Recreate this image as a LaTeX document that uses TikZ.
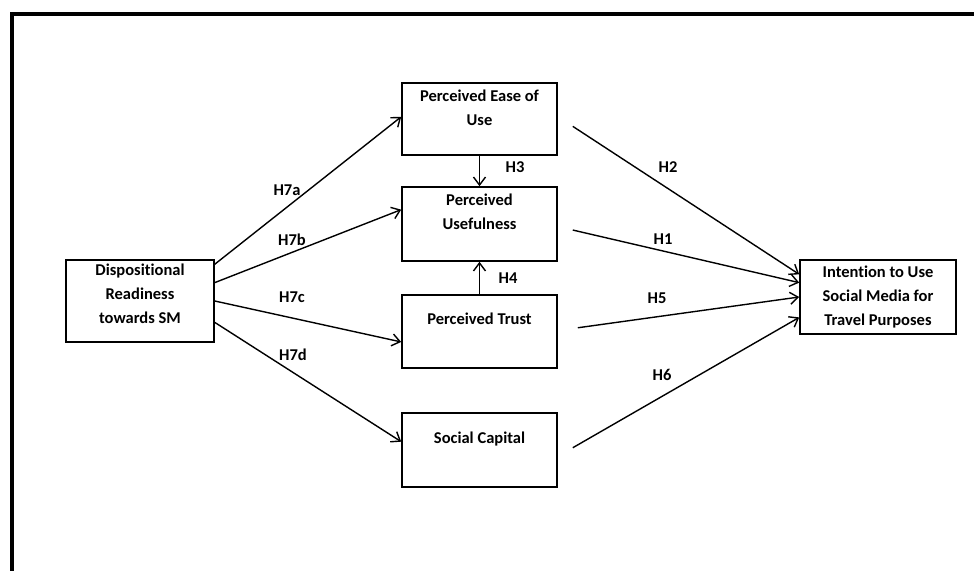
\documentclass[tikz,border=0pt]{standalone}
\usepackage{fontspec}
\setmainfont[Ligatures=NoCommon]{Carlito}
\usetikzlibrary{arrows.meta,calc}
\begin{document}
\begin{tikzpicture}[x=1pt,y=-1pt,
  box/.style={draw,line width=1.6pt,inner sep=0pt,minimum width=155pt},
  txt/.style={inner sep=0pt,align=center,anchor=north,font=\fontsize{16.5}{24}\selectfont\bfseries},
  lbl/.style={inner sep=0pt,font=\fontsize{16.5}{24}\selectfont\bfseries},
  arr/.style={line width=1.4pt,-{Straight Barb[length=8pt,width=12pt,line width=1.4pt]}}]
\useasboundingbox (0,0) rectangle (974,570);
\draw[line width=4pt,line cap=rect] (11.5,572) -- (11.5,13.5) -- (976,13.5);

% boxes
\node[box,minimum height=72pt] (peou) at (479.5,119) {};
\node[box,minimum height=74pt] (pu) at (479.5,224) {};
\node[box,minimum height=73pt] (pt) at (479.5,331.5) {};
\node[box,minimum height=74pt] (sc) at (479.5,450) {};
\node[box,minimum width=148pt,minimum height=82pt] (disp) at (140,301) {};
\node[box,minimum width=156pt,minimum height=74pt] (int) at (878,297) {};

% texts
\node[txt] (tpeou) at ($(peou.north)+(0,8)$) {Perceived Ease of\\Use};
\node[txt] (tpu) at ($(pu.north)+(0,8)$) {Perceived\\Usefulness};
\node[txt] (tpt) at ($(pt.north)+(0,19)$) {Perceived Trust};
\node[txt] (tsc) at ($(sc.north)+(0,20)$) {Social Capital};
\node[txt] (tdisp) at ($(disp.north)+(0,5)$) {Dispositional\\Readiness\\towards SM};
\node[txt] (tint) at ($(int.north)+(0,7)$) {Intention to Use\\Social Media for\\Travel Purposes};

% connectors from Disp
\draw[arr] ($(disp.north east)!0.06!(disp.south east)$) -- ($(peou.north west)!0.47!(peou.south west)$);
\draw[arr] ($(disp.north east)!0.28!(disp.south east)$) -- ($(pu.north west)!0.31!(pu.south west)$);
\draw[arr] ($(disp.north east)!0.50!(disp.south east)$) -- ($(pt.north west)!0.64!(pt.south west)$);
\draw[arr] ($(disp.north east)!0.756!(disp.south east)$) -- ($(sc.north west)!0.39!(sc.south west)$);

% vertical
\draw[arr] (peou.south) -- (pu.north);
\draw[arr] (pt.north) -- (pu.south);

% to intention
\draw[arr] ($(peou.north east)!0.6!(peou.south east)+(15,0)$) -- ($(int.north west)!0.2!(int.south west)$);
\draw[arr] ($(pu.north east)!0.58!(pu.south east)+(15,0)$) -- ($(int.north west)!0.31!(int.south west)$);
\draw[arr] ($(pt.north east)!0.45!(pt.south east)+(20,0)$) -- ($(int.north west)!0.5!(int.south west)$);
\draw[arr] ($(sc.north east)!0.47!(sc.south east)+(15,0)$) -- ($(int.north west)!0.77!(int.south west)$);

% labels
\node[lbl] (l7a) at (287,190) {H7a};
\node[lbl] (l7b) at (292,240) {H7b};
\node[lbl] (l7c) at (292,297) {H7c};
\node[lbl] (l7d) at (293,355) {H7d};
\node[lbl] (l3) at (515,167) {H3};
\node[lbl] (l4) at (508,278) {H4};
\node[lbl] (l2) at (668,167) {H2};
\node[lbl] (l1) at (663,239) {H1};
\node[lbl] (l5) at (657,298) {H5};
\node[lbl] (l6) at (662,375) {H6};
\end{tikzpicture}
\end{document}
